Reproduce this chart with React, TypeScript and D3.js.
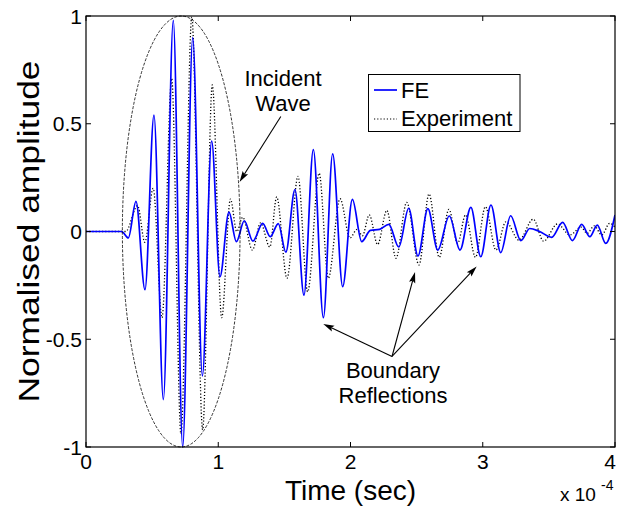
import React from "react";
import * as d3 from "d3";

const feTime = [0, 0.27, 0.32, 0.378, 0.446, 0.514, 0.585, 0.66, 0.731, 0.807, 0.88, 0.95, 1.013, 1.081, 1.137, 1.197, 1.262, 1.336, 1.393, 1.454, 1.511, 1.58, 1.648, 1.719, 1.795, 1.865, 1.941, 2.014, 2.085, 2.15, 2.22, 2.29, 2.365, 2.44, 2.51, 2.585, 2.66, 2.747, 2.828, 2.91, 2.985, 3.062, 3.136, 3.211, 3.288, 3.355, 3.43, 3.521, 3.604, 3.678, 3.748, 3.81, 3.866, 3.93, 4.0];
const feAmp = [0, 0, -0.03, 0.14, -0.27, 0.54, -0.78, 0.98, -1.0, 0.9, -0.67, 0.42, -0.21, 0.09, -0.047, 0.05, -0.045, 0.038, -0.024, 0.037, -0.096, 0.195, -0.295, 0.38, -0.4, 0.36, -0.256, 0.149, -0.047, 0.005, 0.01, 0.033, -0.072, 0.108, -0.114, 0.106, -0.086, 0.072, -0.086, 0.112, -0.117, 0.123, -0.098, 0.073, -0.042, 0.014, 0.0, -0.027, 0.042, -0.042, 0.033, -0.024, 0.03, -0.055, 0.077];

const expTime = [0, 0.3, 0.39, 0.445, 0.508, 0.575, 0.648, 0.718, 0.8, 0.882, 0.955, 1.026, 1.092, 1.14, 1.185, 1.258, 1.32, 1.39, 1.442, 1.52, 1.603, 1.676, 1.763, 1.832, 1.921, 1.996, 2.05, 2.09, 2.142, 2.205, 2.275, 2.344, 2.425, 2.518, 2.594, 2.671, 2.744, 2.81, 2.87, 2.945, 3.02, 3.1, 3.175, 3.274, 3.382, 3.46, 3.565, 3.66, 3.743, 3.79, 3.843, 3.9, 3.96, 4.0];
const expAmp = [0, 0, 0.12, -0.05, 0.2, -0.4, 0.71, -0.94, 0.995, -0.92, 0.68, -0.4, 0.15, 0.0, 0.066, -0.086, 0.04, -0.072, 0.16, -0.217, 0.256, -0.28, 0.27, -0.217, 0.152, -0.03, 0.01, -0.02, 0.077, -0.06, 0.098, -0.124, 0.135, -0.155, 0.174, -0.12, 0.103, -0.055, 0.077, -0.12, 0.115, -0.086, 0.045, -0.04, 0.057, -0.045, 0.035, -0.016, 0.02, -0.009, 0.026, -0.016, 0.038, 0.02];

const xTicks = [0, 1, 2, 3, 4];
const xTickLabels = ["0", "1", "2", "3", "4"];
const yTicks = [-1, -0.5, 0, 0.5, 1];
const yTickLabels = ["-1", "-0.5", "0", "0.5", "1"];
const seriesNames = ["FE", "Experiment"];

// annotation anchors in data coordinates
const incidentTip: [number, number] = [1.161, 0.23];
const incidentTail: [number, number] = [1.473, 0.534];
const boundaryTail: [number, number] = [2.314, -0.58];
const boundaryTips: [number, number][] = [[1.794, -0.429], [2.488, -0.188], [2.954, -0.162]];

const FONT = "'Liberation Sans', Arial, Helvetica, sans-serif";

function arrowPath(x1: number, y1: number, x2: number, y2: number, len = 11, hw = 3.2) {
  const dx = x2 - x1, dy = y2 - y1;
  const d = Math.hypot(dx, dy);
  const ux = dx / d, uy = dy / d;
  const bx = x2 - ux * len, by = y2 - uy * len;
  const nx = -uy, ny = ux;
  return {
    line: `M${x1},${y1}L${bx + ux * 2},${by + uy * 2}`,
    head: `M${x2},${y2}L${bx + nx * hw},${by + ny * hw}L${bx + ux * 2},${by + uy * 2}L${bx - nx * hw},${by - ny * hw}Z`,
  };
}

export default function App() {
  const W = 617, H = 507;
  const L = 86, R = 615, T = 16, B = 447;
  const x = d3.scaleLinear().domain([0, 4]).range([L, R]);
  const y = d3.scaleLinear().domain([-1, 1]).range([B, T]);
  const line = d3
    .line<[number, number]>()
    .x((d) => x(d[0]))
    .y((d) => y(d[1]))
    .curve(d3.curveMonotoneX);

  const feData = feTime.map((t, i) => [t, feAmp[i]] as [number, number]);
  const expData = expTime.map((t, i) => [t, expAmp[i]] as [number, number]);

  const tickLen = 5;
  const ellCx = x(0.72), ellCy = y(0);
  const ellRx = x(1.165) - x(0.72), ellRy = y(0) - y(1);

  const inc = arrowPath(x(incidentTail[0]), y(incidentTail[1]), x(incidentTip[0]), y(incidentTip[1]));
  const bnd = boundaryTips.map((tp) => arrowPath(x(boundaryTail[0]), y(boundaryTail[1]), x(tp[0]), y(tp[1])));

  return (
    <svg width={W} height={H} style={{ position: "absolute", left: 0, top: 0, background: "#fff" }} fontFamily={FONT}>
      <defs>
        <clipPath id="plotclip">
          <rect x={L} y={T - 1} width={R - L} height={B - T + 2} />
        </clipPath>
      </defs>
      <rect x={0} y={0} width={W} height={H} fill="#fff" />

      <g clipPath="url(#plotclip)">
        <path d={line(expData) || ""} fill="none" stroke="#000" strokeWidth={1.3} strokeDasharray="1.2,2" />
        <path d={line(feData) || ""} fill="none" stroke="#0000ff" strokeWidth={1.7} />
      </g>

      {/* Ellipse around incident wave */}
      <ellipse cx={ellCx} cy={ellCy} rx={ellRx} ry={ellRy} fill="none" stroke="#000" strokeWidth={0.8} strokeDasharray="3,1.5" />

      {/* axes box */}
      <rect x={L} y={T} width={R - L} height={B - T} fill="none" stroke="#000" strokeWidth={1.2} />
      {xTicks.map((t) => (
        <g key={"xt" + t}>
          <line x1={x(t)} x2={x(t)} y1={B} y2={B - tickLen} stroke="#000" />
          <line x1={x(t)} x2={x(t)} y1={T} y2={T + tickLen} stroke="#000" />
        </g>
      ))}
      {yTicks.map((t) => (
        <g key={"yt" + t}>
          <line x1={L} x2={L + tickLen} y1={y(t)} y2={y(t)} stroke="#000" />
          <line x1={R} x2={R - tickLen} y1={y(t)} y2={y(t)} stroke="#000" />
        </g>
      ))}
      {xTicks.map((t, i) => (
        <text key={"xl" + t} x={Math.min(x(t), 610)} y={B + 22} fontSize={21} textAnchor="middle" fill="#000">
          {xTickLabels[i]}
        </text>
      ))}
      {yTicks.map((t, i) => (
        <text key={"yl" + t} x={L - 4} y={y(t) + 7.5} fontSize={21} textAnchor="end" fill="#000">
          {yTickLabels[i]}
        </text>
      ))}

      {/* exponent */}
      <text x={560} y={501} fontSize={19} fill="#000">x 10</text>
      <text x={601} y={490} fontSize={14} fill="#000">-4</text>

      {/* axis titles */}
      <text x={(L + R) / 2} y={500} fontSize={28} textAnchor="middle" fill="#000">Time (sec)</text>
      <text transform={`translate(39, ${y(0)}) rotate(-90)`} fontSize={30} textAnchor="middle" fill="#000"
        textLength={342} lengthAdjust="spacingAndGlyphs">
        Normalised amplitude
      </text>

      {/* legend */}
      <rect x={368.5} y={74.5} width={151.5} height={57} fill="#fff" stroke="#000" strokeWidth={1} />
      <line x1={374} x2={397} y1={90} y2={90} stroke="#0000ff" strokeWidth={1.7} />
      <text x={401} y={98} fontSize={22} fill="#000">{seriesNames[0]}</text>
      <line x1={374} x2={397} y1={119} y2={119} stroke="#000" strokeWidth={1.2} strokeDasharray="1.2,2" />
      <text x={401} y={126} fontSize={22} fill="#000">{seriesNames[1]}</text>

      {/* annotations */}
      <text x={283} y={86} fontSize={22} textAnchor="middle" fill="#000">Incident</text>
      <text x={283} y={111} fontSize={22} textAnchor="middle" fill="#000">Wave</text>
      <path d={inc.line} stroke="#000" strokeWidth={1.1} fill="none" />
      <path d={inc.head} fill="#000" />

      {bnd.map((a, i) => (
        <g key={"ba" + i}>
          <path d={a.line} stroke="#000" strokeWidth={1.1} fill="none" />
          <path d={a.head} fill="#000" />
        </g>
      ))}
      <text x={393} y={378} fontSize={22} textAnchor="middle" fill="#000">Boundary</text>
      <text x={393} y={403} fontSize={22} textAnchor="middle" fill="#000">Reflections</text>
    </svg>
  );
}
